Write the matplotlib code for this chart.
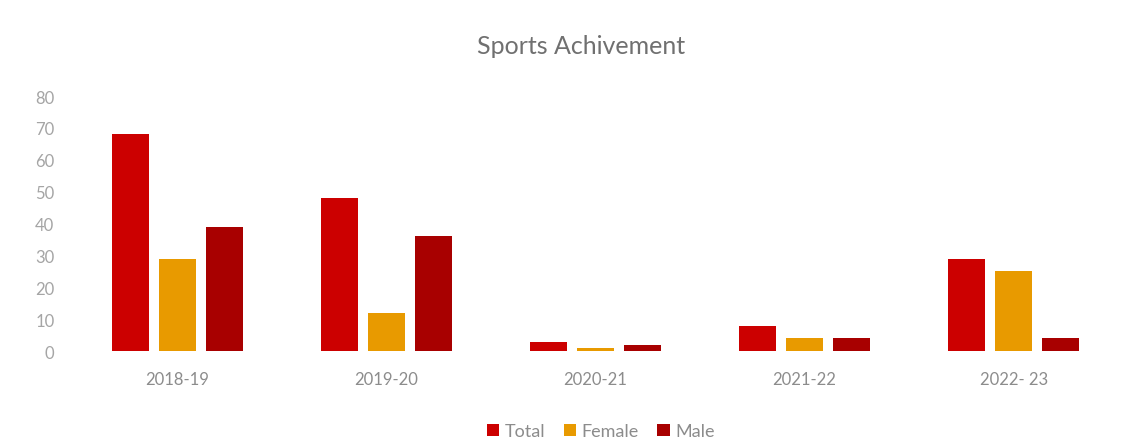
import numpy as np
import matplotlib.pyplot as plt

# data
years = ['2018-19', '2019-20', '2020-21', '2021-22', '2022- 23']
total = [68, 48, 3, 8, 29]
female = [29, 12, 1, 4, 25]
male = [39, 36, 2, 4, 4]

series = [('Total', total, '#CC0000'),
          ('Female', female, '#E89A00'),
          ('Male', male, '#A80000')]

plt.rcParams['font.family'] = ['Lato', 'DejaVu Sans']
txt = '#8C8C8C'

fig = plt.figure(figsize=(11.33, 4.39), dpi=100)
ax = fig.add_axes([0.064, 0.198, 0.923, 0.581])

x = np.arange(len(years))
w = 0.177
step = 0.225
for i, (name, vals, col) in enumerate(series):
    ax.bar(x + (i - 1) * step, vals, width=w, color=col, label=name)

ax.set_xlim(-0.5, len(years) - 0.5)
ax.set_ylim(0, 80)
ax.set_yticks(range(0, 81, 10))
ax.set_xticks(x)
ax.set_xticklabels(years)
ax.tick_params(length=0, colors=txt, labelsize=12)
ax.tick_params(axis='y', pad=13, colors='#A5A5A5')
ax.tick_params(axis='x', pad=14)
for s in ax.spines.values():
    s.set_visible(False)

fig.text(0.513, 0.895, 'Sports Achivement', ha='center', va='center',
         fontsize=18, color='#707070')

ax.legend(loc='upper center', bbox_to_anchor=(0.505, -0.22), ncol=3,
          frameon=False, fontsize=13, labelcolor=txt, handlelength=0.7,
          handleheight=0.7, handletextpad=0.3, columnspacing=1.0)

fig.savefig('out.png', dpi=100)
